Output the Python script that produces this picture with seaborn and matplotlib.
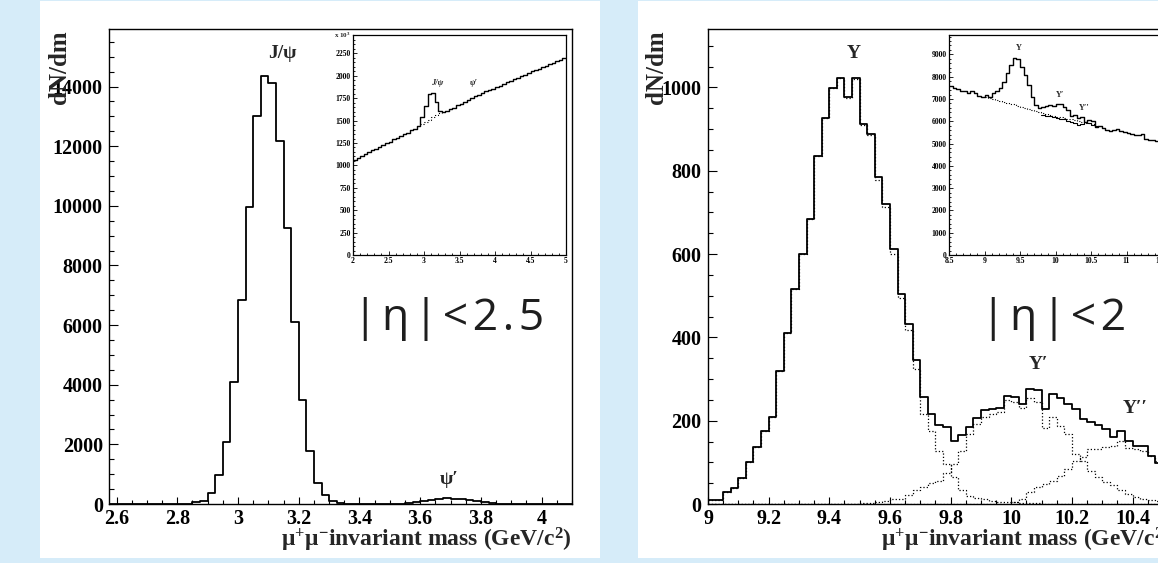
import numpy as np
import pandas as pd
import matplotlib
matplotlib.use("Agg")
import matplotlib.pyplot as plt
import seaborn as sns
from matplotlib.patches import Rectangle
from matplotlib.ticker import MultipleLocator, FuncFormatter

# ---- data: J/psi panel (main, bins of 0.025 GeV from 2.575) ----
jpsi_lo, jpsi_hi = 2.575, 4.1
jpsi_counts = [0, 0, 0, 0, 0, 0, 0, 0, 0, 0, 0,
               55, 112, 380, 973, 2090, 4090, 6840, 9950, 13020, 14340,
               14110, 12170, 9240, 6100, 3490, 1780, 700, 300, 100, 40, 10,
               0, 0, 0, 0, 0, 5,
               15, 40, 70, 105, 140, 170, 185, 180, 160, 125, 90, 60, 35, 15, 5,
               0, 0, 0, 0, 0, 0, 0, 0]

# J/psi inset (x10, bins of 0.05 GeV from 2.0)
jpsi_in_lo, jpsi_in_hi = 2.0, 5.0
jpsi_in_counts = [1065, 1085, 1110, 1125, 1150, 1170, 1185, 1210, 1225, 1250,
                  1265, 1290, 1305, 1330, 1350, 1360, 1390, 1405, 1440, 1540,
                  1660, 1800, 1805, 1705, 1610, 1595, 1610, 1630, 1645, 1670,
                  1690, 1710, 1725, 1750, 1770, 1785, 1805, 1825, 1840, 1855,
                  1875, 1890, 1910, 1930, 1945, 1960, 1980, 1995, 2010, 2030,
                  2050, 2065, 2080, 2095, 2110, 2130, 2145, 2160, 2180, 2195]
jpsi_in_bg_lo, jpsi_in_bg_hi = 2.95, 3.25
jpsi_in_bg = [1465, 1485, 1510, 1535, 1560, 1585]

# ---- data: Upsilon panel (main, bins of 0.025 GeV from 9.0) ----
ups_lo, ups_hi = 9.0, 10.5
ups_total = [10, 10, 30, 39, 62, 101, 137, 176, 210, 320,
             410, 515, 599, 683, 835, 926, 998, 1022, 977, 1022,
             913, 889, 784, 720, 613, 505, 431, 346, 257, 215,
             190, 186, 152, 166, 185, 207, 225, 228, 231, 259,
             257, 239, 276, 273, 227, 263, 254, 240, 227, 203,
             197, 189, 179, 161, 175, 152, 140, 140, 116, 98]
ups_1s = [10, 10, 30, 39, 62, 101, 137, 176, 210, 320,
          410, 515, 599, 683, 835, 926, 998, 1022, 975, 1020,
          910, 885, 778, 712, 600, 495, 418, 325, 216, 175,
          128, 95, 64, 33, 20, 15, 11, 8, 6, 5,
          4, 3, 2, 2, 1, 0, 0, 0, 0, 0,
          0, 0, 0, 0, 0, 0, 0, 0, 0, 0]
ups_2s = [0, 0, 0, 0, 0, 0, 0, 0, 0, 0,
          0, 0, 0, 0, 0, 0, 0, 0, 0, 0,
          2, 3, 5, 7, 13, 13, 22, 33, 40, 50,
          55, 75, 95, 128, 169, 191, 210, 215, 222, 250,
          246, 230, 254, 246, 183, 210, 187, 167, 119, 104,
          80, 64, 52, 45, 33, 25, 17, 13, 10, 8]
ups_3s = [0, 0, 0, 0, 0, 0, 0, 0, 0, 0,
          0, 0, 0, 0, 0, 0, 0, 0, 0, 0,
          0, 0, 0, 0, 0, 0, 0, 0, 0, 0,
          0, 0, 0, 0, 0, 0, 0, 0, 0, 0,
          5, 13, 29, 40, 48, 56, 68, 83, 104, 112,
          132, 132, 136, 140, 152, 135, 132, 128, 116, 104]

# Upsilon inset (bins of 0.05 GeV from 8.5)
ups_in_lo, ups_in_hi = 8.5, 11.5
ups_in_total = [7560, 7500, 7430, 7380, 7340, 7290, 7380, 7250, 7150, 7100,
                7160, 7080, 7250, 7350, 7500, 7770, 8150, 8520, 8820, 8780,
                8450, 8070, 7620, 7100, 6730, 6580, 6650, 6700, 6720, 6680,
                6780, 6760, 6650, 6520, 6250, 6300, 6150, 6200, 5950, 6050,
                6020, 5750, 5800, 5700, 5620, 5560, 5600, 5660, 5560, 5500,
                5480, 5450, 5400, 5380, 5420, 5200, 5150, 5160, 5130, 5100]
ups_in_bg_lo, ups_in_bg_hi = 9.0, 10.6
ups_in_bg = [7100, 7050, 7000, 6960, 6900, 6860, 6820, 6790, 6760, 6700,
             6660, 6600, 6560, 6500, 6450, 6400, 6350, 6310, 6280, 6250,
             6210, 6180, 6150, 6110, 6080, 6040, 6000, 5970, 5930, 5900,
             5870, 5800]
ups_in_low_lo, ups_in_low_hi = 9.8, 10.6
ups_in_low = [6300, 6250, 6230, 6180, 6150, 6100, 6080, 6020,
              5980, 5900, 5850, 5880, 5950, 5900, 5850, 5780]

W, H = 1158, 563
BG = "#d6ecf9"
SERIF = ["Liberation Serif", "DejaVu Serif"]
SANS = ["Open Sans", "DejaVu Sans"]
HS = "\u200a"  # hair space, the eta labels are set loosely

sns.set_theme(style="ticks")
plt.rcParams["font.family"] = SERIF
plt.rcParams["font.weight"] = "bold"
plt.rcParams["mathtext.fontset"] = "custom"
plt.rcParams["mathtext.rm"] = "Liberation Serif:bold"
plt.rcParams["mathtext.it"] = "Liberation Serif:bold"
plt.rcParams["axes.linewidth"] = 1.0
plt.rcParams["axes.edgecolor"] = "black"

num_fmt = FuncFormatter(lambda v, p: f"{v:g}")


def px_rect(left, top, right, bottom):
    return [left / W, 1 - bottom / H, (right - left) / W, (bottom - top) / H]


def draw_hist(ax, lo, hi, counts, **kw):
    edges = np.linspace(lo, hi, len(counts) + 1)
    df = pd.DataFrame({"mass": (edges[:-1] + edges[1:]) / 2,
                       "n": np.asarray(counts, dtype=float)})
    sns.histplot(data=df, x="mass", weights="n", bins=edges.tolist(),
                 element="step", fill=False, color="black", ax=ax, **kw)


def style_main(ax, xmaj, xmin, ymaj, ymin):
    ax.set_facecolor("white")
    ax.xaxis.set_major_locator(MultipleLocator(xmaj))
    ax.xaxis.set_minor_locator(MultipleLocator(xmin))
    ax.yaxis.set_major_locator(MultipleLocator(ymaj))
    ax.yaxis.set_minor_locator(MultipleLocator(ymin))
    ax.xaxis.set_major_formatter(num_fmt)
    ax.tick_params(which="both", direction="in", top=False, right=False,
                   width=0.8, colors="black", labelsize=14.5)
    ax.tick_params(axis="x", which="major", length=5, pad=3.5)
    ax.tick_params(axis="x", which="minor", length=2.8)
    ax.tick_params(axis="y", which="major", length=6.5, pad=4.5)
    ax.tick_params(axis="y", which="minor", length=3.6)
    ax.set_xlabel("")
    ax.set_ylabel("")
    for s in ax.spines.values():
        s.set_visible(True)
        s.set_linewidth(1.0)


def style_inset(ax, xmaj, xmin, ymaj, ymin):
    ax.set_facecolor("white")
    ax.xaxis.set_major_locator(MultipleLocator(xmaj))
    ax.xaxis.set_minor_locator(MultipleLocator(xmin))
    ax.yaxis.set_major_locator(MultipleLocator(ymaj))
    ax.yaxis.set_minor_locator(MultipleLocator(ymin))
    ax.xaxis.set_major_formatter(num_fmt)
    ax.tick_params(which="both", direction="in", top=False, right=False,
                   width=0.6, colors="black", labelsize=5.5, pad=1.5)
    ax.tick_params(which="major", length=3)
    ax.tick_params(which="minor", length=1.5)
    ax.set_xlabel("")
    ax.set_ylabel("")
    for s in ax.spines.values():
        s.set_visible(True)
        s.set_linewidth(0.9)


fig = plt.figure(figsize=(W / 100, H / 100), dpi=100, facecolor=BG)

# white panels behind the two plots
fig.patches.append(Rectangle((40 / W, 1 - 558 / H), 560 / W, 557 / H,
                             transform=fig.transFigure, fc="white", ec="none", zorder=-5))
fig.patches.append(Rectangle((638 / W, 1 - 558 / H), 530 / W, 557 / H,
                             transform=fig.transFigure, fc="white", ec="none", zorder=-5))

# ---------------- left panel: J/psi ----------------
ax1 = fig.add_axes(px_rect(109, 29, 572, 504))
draw_hist(ax1, jpsi_lo, jpsi_hi, jpsi_counts, linewidth=1.3)
ax1.set_xlim(jpsi_lo, jpsi_hi)
ax1.set_ylim(0, 15930)
style_main(ax1, 0.2, 0.05, 2000, 500)
ax1.text(3.147, 15100, "J/ψ", ha="center", va="center", fontsize=14, fontweight="bold")
ax1.text(3.696, 805, "ψ′", ha="center", va="center", fontsize=14, fontweight="bold")

ins1 = fig.add_axes(px_rect(353, 35, 566, 255))
draw_hist(ins1, jpsi_in_lo, jpsi_in_hi, jpsi_in_counts, linewidth=1.0)
draw_hist(ins1, jpsi_in_bg_lo, jpsi_in_bg_hi, jpsi_in_bg, linewidth=0.8,
          linestyle=":")
ins1.set_xlim(jpsi_in_lo, jpsi_in_hi)
ins1.set_ylim(0, 2455)
style_inset(ins1, 0.5, 0.1, 250, 50)
ins1.text(-0.01, 1.0, r"x 10$^{3}$", transform=ins1.transAxes, ha="right",
          va="center", fontsize=5)
ins1.text(3.18, 1916, "J/ψ", ha="center", va="center", fontsize=6, style="italic")
ins1.text(3.70, 1916, "ψ′", ha="center", va="center", fontsize=6, style="italic")

fig.text(60 / W, 1 - 30 / H, "dN/dm", rotation=90, ha="center", va="top",
         fontsize=18, fontweight="bold")
fig.text(572 / W, 1 - 547 / H, r"μ$^{+}$μ$^{-}$invariant mass (GeV/c$^{2}$)",
         ha="right", va="baseline", fontsize=17, fontweight="bold")
fig.text(353 / W, 1 - 330 / H, HS.join("|η|<2.5"), ha="left", va="baseline",
         fontsize=32, color="#1e1e1e", fontweight="normal", family=SANS)

# ---------------- right panel: Upsilon ----------------
ax2 = fig.add_axes(px_rect(708, 29, 1172, 504))
draw_hist(ax2, ups_lo, ups_hi, ups_1s, linewidth=0.9, linestyle=":")
draw_hist(ax2, ups_lo, ups_hi, ups_2s, linewidth=0.9, linestyle=":")
draw_hist(ax2, ups_lo, ups_hi, ups_3s, linewidth=0.9, linestyle=":")
draw_hist(ax2, ups_lo, ups_hi, ups_total, linewidth=1.3)
ax2.set_xlim(9.0, 10.53)
ax2.set_ylim(0, 1140)
style_main(ax2, 0.2, 0.05, 200, 50)
ax2.text(9.48, 1080, "Υ", ha="center", va="center", fontsize=14, fontweight="bold")
ax2.text(10.09, 334, "Υ′", ha="center", va="center", fontsize=14, fontweight="bold")
ax2.text(10.41, 230, "Υ′′", ha="center", va="center", fontsize=14, fontweight="bold")

ins2 = fig.add_axes(px_rect(949, 35, 1162, 255))
draw_hist(ins2, ups_in_bg_lo, ups_in_bg_hi, ups_in_bg, linewidth=0.8, linestyle=":")
draw_hist(ins2, ups_in_low_lo, ups_in_low_hi, ups_in_low, linewidth=0.8)
draw_hist(ins2, ups_in_lo, ups_in_hi, ups_in_total, linewidth=1.0)
ins2.set_xlim(ups_in_lo, ups_in_hi)
ins2.set_ylim(0, 9870)
style_inset(ins2, 0.5, 0.1, 1000, 200)
ins2.text(9.48, 9300, "Υ", ha="center", va="center", fontsize=6)
ins2.text(10.07, 7200, "Υ′", ha="center", va="center", fontsize=6)
ins2.text(10.40, 6580, "Υ′′", ha="center", va="center", fontsize=6)

fig.text(656 / W, 1 - 30 / H, "dN/dm", rotation=90, ha="center", va="top",
         fontsize=18, fontweight="bold")
fig.text(1172 / W, 1 - 547 / H, r"μ$^{+}$μ$^{-}$invariant mass (GeV/c$^{2}$)",
         ha="right", va="baseline", fontsize=17, fontweight="bold")
fig.text(981 / W, 1 - 330 / H, HS.join("|η|<2"), ha="left", va="baseline",
         fontsize=32, color="#1e1e1e", fontweight="normal", family=SANS)

fig.savefig("out.png", dpi=100, facecolor=BG)
